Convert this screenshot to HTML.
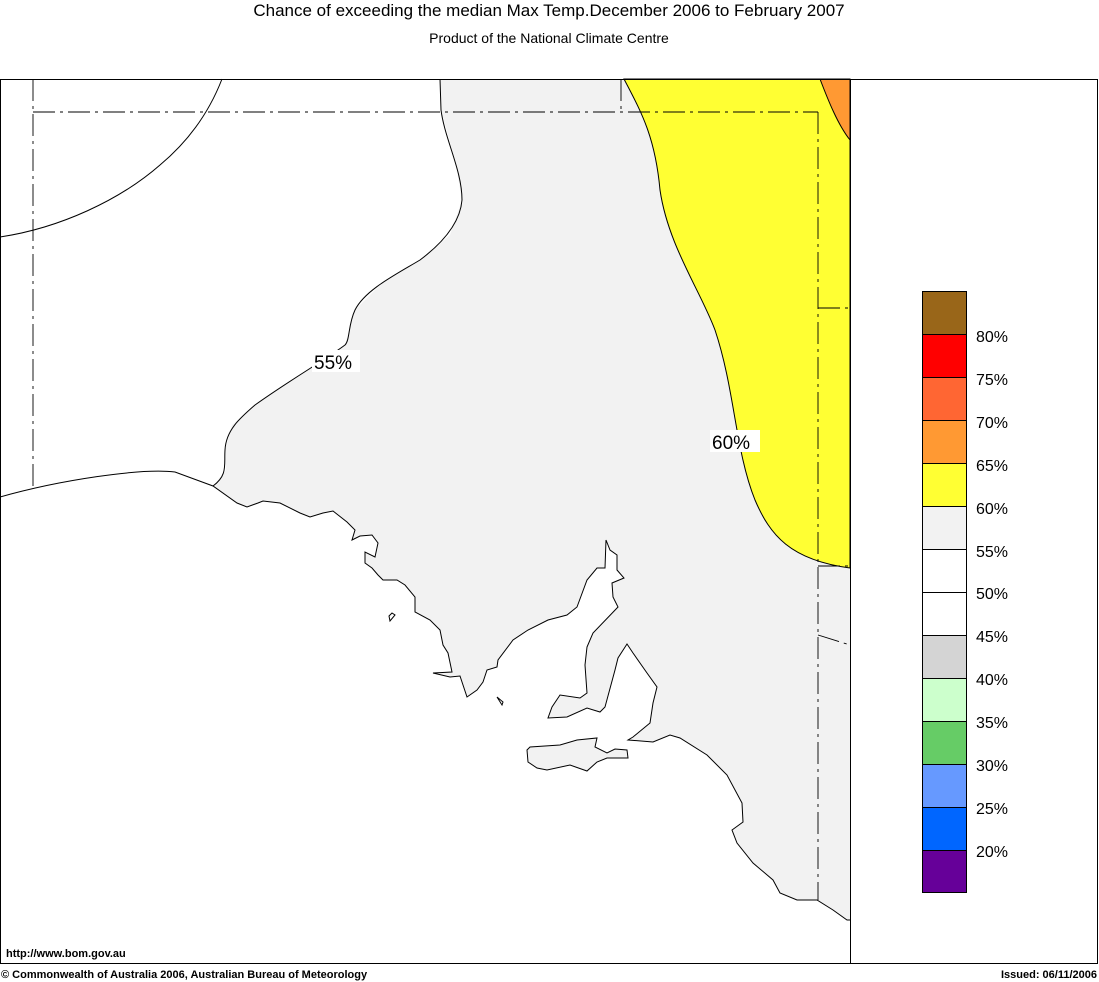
<!DOCTYPE html>
<html><head><style>body{margin:0;background:#fff}svg{display:block}text{font-family:"Liberation Sans",sans-serif}</style></head><body>
<svg width="1099" height="982" viewBox="0 0 1099 982" xmlns="http://www.w3.org/2000/svg">
<rect width="1099" height="982" fill="#fff"/>
<text x="549" y="16" font-size="17" text-anchor="middle">Chance of exceeding the median Max Temp.December 2006 to February 2007</text>
<text x="549" y="43" font-size="14" text-anchor="middle">Product of the National Climate Centre</text>
<path fill="#f2f2f2" stroke="none" d="M440,79 L441,110 455,160 462,200 450,235 420,260 380,285 355,310 345,345 300,375 255,405 232,425 225,450 226,470 213,486 237,503 247,507 258,503 263,501 280,503 300,513 310,517 323,513 333,511 347,522 355,530 352,540 360,536 372,535 378,543 375,557 365,552 365,563 372,568 378,575 383,580 397,580 405,585 415,597 415,612 430,620 440,630 443,645 448,653 452,672 433,673 450,677 460,676 467,697 477,690 483,682 487,670 497,667 498,660 513,640 528,630 548,620 567,615 577,607 587,580 597,568 605,568 606,540 610,550 617,555 617,570 624,578 612,583 613,597 618,607 593,633 587,647 585,665 587,693 580,698 560,695 552,707 548,718 567,717 587,708 600,712 605,707 615,670 618,658 627,644 633,653 647,673 657,687 653,703 650,723 633,737 628,740 653,742 670,735 680,738 707,755 727,775 742,803 743,822 732,830 737,843 753,863 773,880 780,893 797,900 817,900 833,910 847,920 850,920 L850,79 Z"/>
<path fill="#ffff33" stroke="#000" stroke-width="1" d="M624,79 C640,110 655,135 660,190 C668,245 700,290 715,330 C735,390 735,450 755,500 C770,535 790,560 850,568 L850,79 Z"/>
<path fill="#ff9933" stroke="#000" stroke-width="1" d="M820,79 L850,79 L850,140 C838,125 828,100 820,79 Z"/>
<path fill="none" stroke="#000" d="M440,79 L441,110 C445,140 462,170 462,200 C460,225 440,245 420,260 C395,275 365,290 355,310 C348,325 350,340 345,345 C325,360 290,380 255,405 C240,418 226,430 225,450 C224,465 228,475 213,486"/>
<path fill="none" stroke="#000" d="M0,497 C60,480 140,468 175,472 L213,486 237,503 247,507 258,503 263,501 280,503 300,513 310,517 323,513 333,511 347,522 355,530 352,540 360,536 372,535 378,543 375,557 365,552 365,563 372,568 378,575 383,580 397,580 405,585 415,597 415,612 430,620 440,630 443,645 448,653 452,672 433,673 450,677 460,676 467,697 477,690 483,682 487,670 497,667 498,660 513,640 528,630 548,620 567,615 577,607 587,580 597,568 605,568 606,540 610,550 617,555 617,570 624,578 612,583 613,597 618,607 593,633 587,647 585,665 587,693 580,698 560,695 552,707 548,718 567,717 587,708 600,712 605,707 615,670 618,658 627,644 633,653 647,673 657,687 653,703 650,723 633,737 628,740 653,742 670,735 680,738 707,755 727,775 742,803 743,822 732,830 737,843 753,863 773,880 780,893 797,900 817,900 833,910 847,920 850,920"/>
<path fill="#f2f2f2" stroke="#000" d="M527,750 530,747 560,745 577,740 597,738 595,747 607,753 615,749 627,750 628,758 607,758 597,762 587,771 570,765 547,770 537,768 528,762 Z"/>
<path fill="none" stroke="#000" d="M389,616 392,613 395,615 390,621 Z M497,697 503,702 502,705 Z"/>
<path fill="none" stroke="#000" d="M0,237 C60,228 120,200 160,165 C190,140 210,110 222,79"/>
<g fill="none" stroke="#000" stroke-width="0.9" stroke-dasharray="22,5,3,5">
<path d="M33,112 L818,112"/><path d="M33,79 L33,487"/><path d="M818,112 L818,900"/>
<path d="M621,79 L621,112"/><path d="M818,308 L850,308"/><path d="M818,566 L850,566"/><path d="M818,635 L850,645"/>
</g>
<rect x="312" y="350" width="48" height="22" fill="#fff"/>
<text x="314" y="369" font-size="19">55%</text>
<rect x="710" y="430" width="50" height="22" fill="#fff"/>
<text x="712" y="449" font-size="19">60%</text>
<rect x="0.5" y="79.5" width="850" height="884" fill="none" stroke="#000"/>
<rect x="850.5" y="79.5" width="247" height="884" fill="none" stroke="#000"/>
<g stroke="#000" stroke-width="1">
<rect x="922.5" y="291.5" width="44" height="43" fill="#996619"/>
<rect x="922.5" y="334.5" width="44" height="43" fill="#ff0000"/>
<rect x="922.5" y="377.5" width="44" height="43" fill="#ff6633"/>
<rect x="922.5" y="420.5" width="44" height="43" fill="#ff9933"/>
<rect x="922.5" y="463.5" width="44" height="43" fill="#ffff33"/>
<rect x="922.5" y="506.5" width="44" height="43" fill="#f2f2f2"/>
<rect x="922.5" y="549.5" width="44" height="43" fill="#ffffff"/>
<rect x="922.5" y="592.5" width="44" height="43" fill="#ffffff"/>
<rect x="922.5" y="635.5" width="44" height="43" fill="#d4d4d4"/>
<rect x="922.5" y="678.5" width="44" height="43" fill="#ccffcc"/>
<rect x="922.5" y="721.5" width="44" height="43" fill="#66cc66"/>
<rect x="922.5" y="764.5" width="44" height="43" fill="#6699ff"/>
<rect x="922.5" y="807.5" width="44" height="43" fill="#0066ff"/>
<rect x="922.5" y="850.5" width="44" height="42" fill="#660099"/>
</g>
<g font-size="16">
<text x="976" y="342">80%</text><text x="976" y="385">75%</text><text x="976" y="428">70%</text>
<text x="976" y="471">65%</text><text x="976" y="514">60%</text><text x="976" y="557">55%</text>
<text x="976" y="599">50%</text><text x="976" y="642">45%</text><text x="976" y="685">40%</text>
<text x="976" y="728">35%</text><text x="976" y="771">30%</text><text x="976" y="814">25%</text>
<text x="976" y="857">20%</text>
</g>
<text x="6" y="957" font-size="11" font-weight="bold">http://www.bom.gov.au</text>
<text x="1" y="978" font-size="11" font-weight="bold">© Commonwealth of Australia 2006, Australian Bureau of Meteorology</text>
<text x="1097" y="978" font-size="11" font-weight="bold" text-anchor="end">Issued: 06/11/2006</text>
</svg>
</body></html>
